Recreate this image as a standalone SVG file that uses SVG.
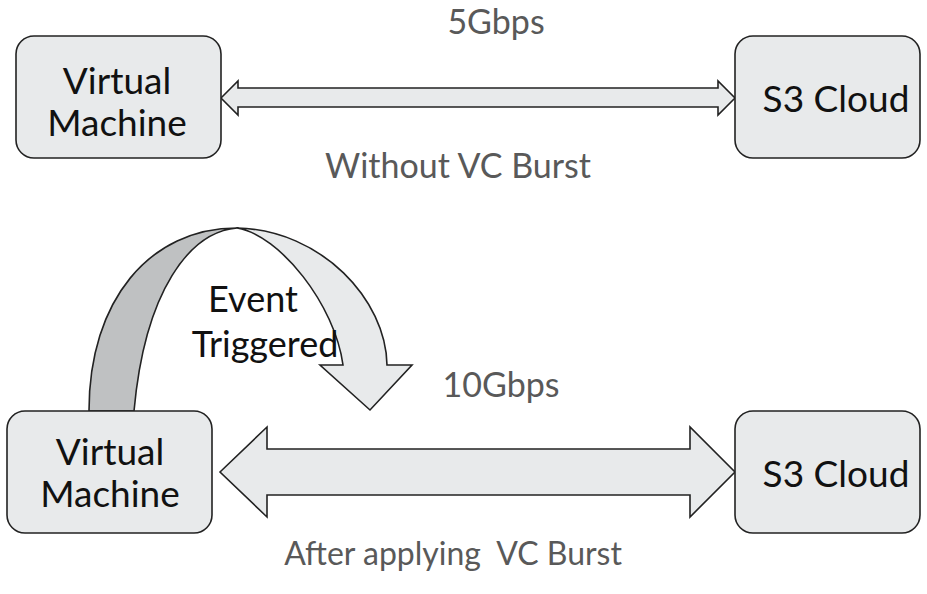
<svg xmlns="http://www.w3.org/2000/svg" width="927" height="594" viewBox="0 0 927 594">
<style>
.box{fill:#e8eaeb;stroke:#222;stroke-width:1.6}
.arrow{fill:#e8eaeb;stroke:#222;stroke-width:1.6;stroke-linejoin:miter}
.band{fill:#bfc1c2;stroke:#222;stroke-width:1.6}
.nt{font-family:Lato,"Liberation Sans",sans-serif;font-size:37px;fill:#111;text-anchor:middle}
.ev{font-family:Lato,"Liberation Sans",sans-serif;font-size:36px;fill:#111;text-anchor:middle}
.lbl{font-family:Lato,"Liberation Sans",sans-serif;font-size:34px;fill:#595959;text-anchor:middle}
.lbl2{font-family:Lato,"Liberation Sans",sans-serif;font-size:32px;fill:#595959;text-anchor:middle}
</style>
<rect width="927" height="594" fill="#fff"/>
<g id="connectors">
<path class="arrow" d="M221,98 L238,81 L238,88 L718,88 L718,81 L735,98 L718,115 L718,107 L238,107 L238,115 Z"/>
<path class="arrow" d="M220,472 L267,427 L267,449 L690,449 L690,427 L735,472 L690,517 L690,495 L267,495 L267,517 Z"/>
<g id="event-arrow">
<path class="band" d="M89,411 C89,300 150,228 237,228 C190,232 145,290 134,411 Z"/>
<path class="arrow" d="M237,228 C322,230 386,300 387,365 L412,365 L370,410 L320,365 L343,365 C335,305 280,235 237,228 Z"/>
</g>
</g>
<g id="vm-top">
<rect class="box" x="16" y="36" width="205" height="122" rx="18"/>
<text class="nt" x="117" y="94">Virtual</text>
<text class="nt" x="117" y="136">Machine</text>
</g>
<g id="s3-top">
<rect class="box" x="735" y="36" width="185" height="122" rx="18"/>
<text class="nt" x="836" y="112">S3 Cloud</text>
</g>
<g id="vm-bottom">
<rect class="box" x="7" y="411" width="205" height="122" rx="18"/>
<text class="nt" x="110" y="465">Virtual</text>
<text class="nt" x="110" y="507">Machine</text>
</g>
<g id="s3-bottom">
<rect class="box" x="735" y="411" width="185" height="122" rx="18"/>
<text class="nt" x="836" y="487">S3 Cloud</text>
</g>
<g id="labels">
<text class="lbl" x="496" y="34">5Gbps</text>
<text class="lbl" x="458" y="178">Without VC Burst</text>
<text class="lbl" x="501" y="397">10Gbps</text>
<text class="lbl2" x="453" y="565" xml:space="preserve">After applying  VC Burst</text>
<text class="ev" x="253" y="312">Event</text>
<text class="ev" x="265" y="357">Triggered</text>
</g>
</svg>
